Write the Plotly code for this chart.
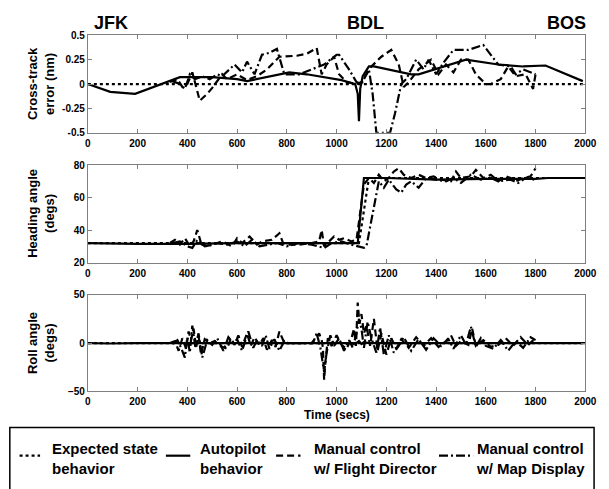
import plotly.graph_objects as go

# ---------------- DATA ----------------
# Panel 1: cross-track error (nm)
xt_expected_t = [0, 2000]
xt_expected_v = [0, 0]
xt_auto_t = [0, 90, 190, 300, 370, 500, 600, 640, 810, 880, 1020, 1075, 1085, 1090, 1095, 1105, 1130, 1150, 1300, 1330, 1430, 1520, 1650, 1750, 1840, 1990]
xt_auto_v = [0, -0.08, -0.1, 0.0, 0.07, 0.07, 0.05, 0.03, 0.12, 0.1, 0.04, 0.0, -0.1, -0.38, -0.05, 0.08, 0.18, 0.18, 0.1, 0.1, 0.18, 0.25, 0.2, 0.18, 0.19, 0.03]
xt_fd_t = [330, 360, 380, 400, 420, 450, 480, 500, 540, 560, 600, 640, 680, 720, 770, 840, 880, 920, 940, 960, 990, 1010, 1040, 1080, 1100, 1140, 1180, 1220, 1250, 1270, 1290, 1330, 1380, 1410, 1440, 1470, 1500, 1530, 1560, 1600, 1620, 1660, 1690, 1720, 1760, 1790, 1800]
xt_fd_v = [0.02, 0.05, -0.03, 0.0, 0.12, -0.17, -0.1, -0.04, 0.1, 0.05, 0.1, 0.04, 0.08, 0.15, 0.28, 0.29, 0.31, 0.37, 0.1, 0.2, 0.28, 0.1, 0.02, 0.0, 0.02, 0.18, 0.28, 0.35, 0.2, -0.03, 0.02, 0.15, 0.25, 0.1, 0.2, 0.12, 0.25, 0.25, 0.1, 0.0, 0.0, 0.05, 0.18, 0.08, 0.1, -0.05, 0.1]
xt_map_t = [340, 370, 390, 410, 430, 460, 490, 520, 540, 570, 590, 620, 640, 670, 700, 730, 760, 790, 850, 900, 950, 1000, 1010, 1050, 1080, 1100, 1130, 1145, 1160, 1200, 1215, 1235, 1260, 1280, 1320, 1350, 1370, 1400, 1430, 1470, 1530, 1590, 1620, 1650, 1700, 1720, 1750, 1800]
xt_map_v = [0.03, 0.0, -0.05, 0.1, 0.05, 0.08, 0.05, 0.1, 0.08, 0.15, 0.2, 0.12, 0.23, 0.1, 0.3, 0.32, 0.36, 0.1, 0.1, 0.15, 0.2, 0.3, 0.3, 0.15, 0.02, 0.0, 0.15, -0.1, -0.5, -0.5, -0.5, -0.3, 0.0, 0.05, 0.25, 0.15, 0.25, 0.1, 0.22, 0.35, 0.35, 0.4, 0.3, 0.2, 0.18, 0.1, 0.15, 0.1]

# Panel 2: heading angle (degs)
hd_expected_t = [0, 1090, 1130, 2000]
hd_expected_v = [32, 32, 72, 72]
hd_auto_t = [0, 200, 400, 600, 800, 1000, 1085, 1110, 1200, 1400, 1600, 1800, 1850, 2000]
hd_auto_v = [32, 31.5, 31.5, 32, 32, 32, 32, 72, 72, 71, 71.5, 71.5, 72, 72]
hd_fd_t = [330, 350, 370, 390, 410, 425, 440, 455, 470, 500, 540, 580, 600, 620, 650, 680, 700, 740, 770, 785, 800, 850, 900, 930, 940, 950, 970, 990, 1010, 1030, 1060, 1080, 1090, 1110, 1130, 1150, 1170, 1190, 1210, 1230, 1250, 1270, 1300, 1330, 1360, 1390, 1420, 1460, 1480, 1500, 1540, 1560, 1590, 1620, 1650, 1680, 1700, 1720, 1750, 1780, 1800]
hd_fd_v = [32, 34, 31, 35, 30, 33, 40, 32, 30, 31, 33, 30, 35, 32, 36, 31, 33, 34, 38, 32, 31, 31, 32, 33, 40, 30, 33, 36, 34, 35, 33, 34, 45, 68, 72, 69, 74, 70, 72, 76, 78, 74, 72, 74, 72, 73, 71, 70, 76, 72, 73, 77, 72, 74, 70, 73, 72, 70, 72, 73, 78]
hd_map_t = [340, 370, 400, 420, 440, 460, 480, 520, 560, 600, 630, 660, 690, 720, 760, 800, 850, 900, 950, 980, 1020, 1060, 1090, 1110, 1120, 1140, 1160, 1170, 1190, 1210, 1240, 1260, 1280, 1300, 1330, 1360, 1400, 1440, 1470, 1500, 1540, 1580, 1620, 1650, 1700, 1730, 1760, 1790, 1800]
hd_map_v = [32, 33, 30, 29, 34, 31, 30, 32, 31, 33, 30, 34, 30, 31, 32, 30, 32, 31, 29, 32, 33, 31, 30, 29, 30, 45, 62, 70, 66, 71, 65, 63, 68, 70, 66, 72, 71, 70, 72, 69, 74, 71, 72, 70, 71, 69, 72, 71, 72]

# Panel 3: roll angle (degs)
rl_expected_t = [0, 2000]
rl_expected_v = [0, 0]
rl_auto_t = [0, 90, 200, 330, 1080, 1090, 1100, 1110, 1130, 1500, 1840, 2000]
rl_auto_v = [0, -0.5, 0, 0, 0, 2, -1, 1, 0, 0, 0, 0]
rl_fd_t = [330, 350, 365, 380, 395, 405, 415, 425, 435, 445, 455, 470, 490, 510, 530, 560, 575, 590, 605, 620,
           640, 655, 670, 690, 705, 720, 740, 755, 770, 790, 820, 900, 930, 940, 945, 950, 955, 965, 980, 1000,
           1020, 1040, 1060, 1070, 1078, 1085, 1092, 1100, 1110, 1120, 1135, 1150, 1165, 1180, 1200, 1220, 1240, 1260, 1290, 1320,
           1350, 1380, 1410, 1440, 1460, 1480, 1500, 1530, 1545, 1560, 1590, 1620, 1650, 1680, 1710, 1740, 1770, 1800]
rl_fd_v = [0, 2, -8, 5, -6, 12, 3, 15, -5, 8, -12, 4, 0, 2, -3, -6, 5, -2, 8, -4,
           10, -3, 6, -2, 5, -7, 3, -4, 12, 0, 0, 0, 10, 3, -5, -38, -20, 5, -3, 8,
           -2, -6, 5, 15, -3, 42, 20, 30, 10, 18, -3, 25, -8, 10, -12, 5, -6, 4, -5, 6,
           -3, 5, -4, 2, 8, -3, 2, -2, 15, -3, 3, -4, -2, 5, -3, 6, -2, 5]
rl_map_t = [340, 360, 375, 390, 400, 410, 420, 432, 445, 460, 480, 500, 520, 545, 565, 585, 600, 620, 645, 665,
            680, 700, 715, 730, 750, 770, 790, 805, 905, 920, 935, 950, 960, 975, 990, 1010, 1030, 1050, 1065, 1080,
            1090, 1100, 1110, 1125, 1140, 1160, 1175, 1190, 1210, 1230, 1250, 1270, 1300, 1330, 1360, 1390, 1420, 1450, 1470, 1500,
            1520, 1540, 1560, 1580, 1600, 1630, 1660, 1690, 1720, 1750, 1780, 1800]
rl_map_v = [-1, 3, -5, -15, 6, -10, 18, -4, 10, -15, 3, -2, 5, -8, 6, 0, 4, -8, 12, -5,
            3, -3, 8, -6, 4, -8, 2, 0, 0, 10, -5, -30, -10, 8, -3, 5, -8, 3, -5, 10,
            25, 15, -5, 22, 5, -10, 16, -12, 8, -10, -3, 6, -8, 4, -7, 5, -3, 4, -6, 8,
            -2, 17, -4, 5, -3, -6, 3, -8, 2, -5, 6, 3]

# Tick labels / axis titles
x_ticks = [0, 200, 400, 600, 800, 1000, 1200, 1400, 1600, 1800, 2000]
xt_ticks = [-0.5, -0.25, 0, 0.25, 0.5]
xt_ticktext = ["-0.5", "-0.25", "0", "0.25", "0.5"]
hd_ticks = [20, 40, 60, 80]
rl_ticks = [-50, 0, 50]
panel_titles = ["Cross-track<br>error (nm)", "Heading angle<br>(degs)", "Roll angle<br>(degs)"]
airports = ["JFK", "BDL", "BOS"]
legend_labels = ["Expected state<br>behavior", "Autopilot<br>behavior",
                 "Manual control<br>w/ Flight Director", "Manual control<br>w/ Map Display"]

# ---------------- STYLE ----------------
W, H = 609, 489
FONT = "Liberation Sans, Arial, sans-serif"
DOT = "dot"
DASH = "7px,4px"
DASHDOT = "9px,3px,2px,3px"
LW = 2.2

def px(x):
    return x / W

def py(y):
    return 1 - y / H

x0, x1 = 87, 597
panels = [(30, 130), (163, 263), (296, 395)]

fig = go.Figure()

series = [
    [(xt_expected_t, xt_expected_v, DOT), (xt_auto_t, xt_auto_v, "solid"),
     (xt_fd_t, xt_fd_v, DASH), (xt_map_t, xt_map_v, DASHDOT)],
    [(hd_expected_t, hd_expected_v, DOT), (hd_auto_t, hd_auto_v, "solid"),
     (hd_fd_t, hd_fd_v, DASH), (hd_map_t, hd_map_v, DASHDOT)],
    [(rl_expected_t, rl_expected_v, DOT), (rl_auto_t, rl_auto_v, "solid"),
     (rl_fd_t, rl_fd_v, DASH), (rl_map_t, rl_map_v, DASHDOT)],
]

for i, group in enumerate(series):
    xa = "x" if i == 0 else f"x{i+1}"
    ya = "y" if i == 0 else f"y{i+1}"
    for t, v, dash in group:
        fig.add_trace(go.Scatter(x=t, y=v, mode="lines", xaxis=xa, yaxis=ya,
                                 line=dict(color="black", width=LW, dash=dash),
                                 showlegend=False, hoverinfo="skip"))

axis_common = dict(showline=True, linecolor="#7f7f7f", linewidth=1, mirror="ticks",
                   ticks="inside", ticklen=4, tickcolor="#7f7f7f", showgrid=False,
                   zeroline=False, tickfont=dict(family=FONT, size=10, color="black", weight="bold"))

yranges = [[-0.5, 0.5], [20, 80], [-50, 50]]
yticks = [dict(tickvals=xt_ticks, ticktext=xt_ticktext), dict(tickvals=hd_ticks), dict(tickvals=rl_ticks)]

layout = dict(width=W, height=H, margin=dict(l=0, r=0, t=0, b=0),
              paper_bgcolor="white", plot_bgcolor="white", showlegend=False)
for i, (top, bot) in enumerate(panels):
    sx = "xaxis" if i == 0 else f"xaxis{i+1}"
    sy = "yaxis" if i == 0 else f"yaxis{i+1}"
    ya = "y" if i == 0 else f"y{i+1}"
    xa = "x" if i == 0 else f"x{i+1}"
    layout[sx] = dict(axis_common, domain=[px(x0), px(x1)], range=[0, 2000],
                      tickvals=x_ticks, anchor=ya, ticklabelstandoff=1)
    layout[sy] = dict(axis_common, domain=[py(bot), py(top)], range=yranges[i],
                      anchor=xa, **yticks[i])
fig.update_layout(**layout)

ann = []
for i, (top, bot) in enumerate(panels):
    ann.append(dict(x=px(39), y=py((top + bot) / 2), xref="paper", yref="paper",
                    text=panel_titles[i], showarrow=False, textangle=-90,
                    xanchor="center", yanchor="middle",
                    font=dict(family=FONT, size=13, color="black", weight="bold")))
ann.append(dict(x=px((x0 + x1) / 2), y=py(419), xref="paper", yref="paper", text="Time (secs)",
                showarrow=False, xanchor="center", yanchor="middle",
                font=dict(family=FONT, size=12, color="black", weight="bold")))
for name, xc in zip(airports, [111, 372, 578]):
    ann.append(dict(x=px(xc), y=py(17), xref="paper", yref="paper", text=name, showarrow=False,
                    xanchor="center", yanchor="middle",
                    font=dict(family=FONT, size=18, color="black", weight="bold")))

# custom legend box
shapes = [dict(type="rect", xref="paper", yref="paper", x0=px(7), x1=px(606), y0=py(500), y1=py(432),
               line=dict(color="black", width=1.5), fillcolor="rgba(0,0,0,0)")]
leg_samples = [(17, 38, DOT), (167, 192, "solid"), (280, 305, DASH), (447, 482, DASHDOT)]
leg_text_x = [48, 200, 316, 483]
for (a, b, d), tx, lab in zip(leg_samples, leg_text_x, legend_labels):
    shapes.append(dict(type="line", xref="paper", yref="paper", x0=px(a), x1=px(b), y0=py(461), y1=py(461),
                       line=dict(color="black", width=LW, dash=d)))
    ann.append(dict(x=px(tx), y=py(464), xref="paper", yref="paper", text=lab, showarrow=False,
                    xanchor="left", yanchor="middle", align="left",
                    font=dict(family=FONT, size=15, color="black", weight="bold")))

fig.update_layout(annotations=ann, shapes=shapes)
fig.write_html("out.html")
